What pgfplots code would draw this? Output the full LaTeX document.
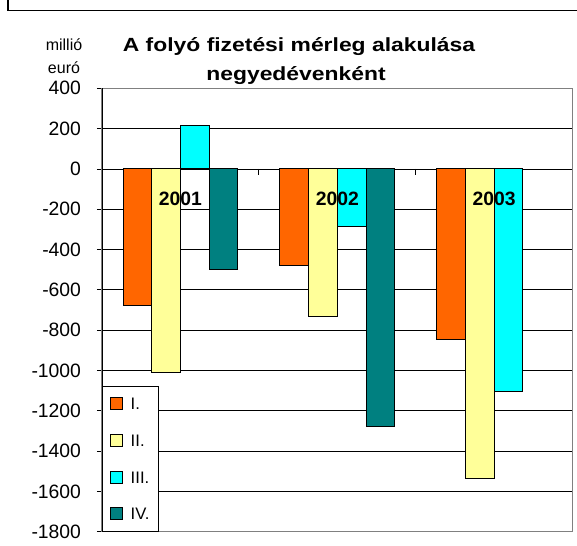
\documentclass[border=0pt]{standalone}
\usepackage{pgfplots}
\pgfplotsset{compat=1.18}
\usepackage{fontspec}
\setmainfont{Liberation Sans}
\newfontfamily\titlefont[FakeStretch=1.2]{Liberation Sans}
\definecolor{cI}{HTML}{FF6600}
\definecolor{cII}{HTML}{FFFF99}
\definecolor{cIII}{HTML}{00FFFF}
\definecolor{cIV}{HTML}{008080}
\begin{document}
\begin{tikzpicture}[x=0.75pt,y=0.75pt]
\path[use as bounding box] (0,0) rectangle (577,545);
\draw[line width=1pt] (8,546) -- (8,534.3) -- (578,534.3);
\node[anchor=base, font=\titlefont\bfseries\fontsize{14.3}{17}\selectfont] at (299,493) {A folyó fizetési mérleg alakulása};
\node[anchor=base, font=\titlefont\bfseries\fontsize{14.3}{17}\selectfont] at (296,464) {negyedévenként};
\node[anchor=base, font=\fontsize{12}{14}\selectfont] at (64,494) {millió};
\node[anchor=base, font=\fontsize{12}{14}\selectfont] at (64,471) {euró};
\begin{axis}[
 at={(76.5pt,9.975pt)}, anchor=south west,
 scale only axis, width=353pt, height=332.55pt,
 xmin=0.5, xmax=3.5, ymin=-1800, ymax=400,
 ytick distance=200, xtick=\empty, ytick pos=left,
 ymajorgrids, grid style={black, line width=0.6pt},
 axis line style={draw=gray, line width=1.1pt},
 ytick style={black, line width=0.6pt}, tick align=outside, major tick length=3.75pt,
 /pgf/number format/assume math mode=true,
 /pgf/number format/1000 sep={},
 yticklabel style={font=\fontsize{14.5}{17}\selectfont, xshift=-8.5pt},
 ybar=0pt, bar width=0.183,
 every axis plot/.append style={draw=black, line width=0.75pt},
 legend image code/.code={\draw[#1] (0pt,-4.5pt) rectangle (9pt,4.5pt);},
 legend cell align=left,
 legend style={at={(rel axis cs:0,0)}, anchor=south west, draw=black, line width=0.6pt, fill=white,
   font=\fontsize{12.5}{14}\selectfont, row sep=16.5pt, inner xsep=5.5pt, inner ysep=7.5pt,
   nodes={inner sep=1pt, text height=9pt, text depth=0pt},
   /tikz/every odd column/.append style={column sep=5pt}},
]
\addplot[fill=cI] coordinates {(1,-680) (2,-480) (3,-845)};
\addplot[fill=cII] coordinates {(1,-1010) (2,-730) (3,-1535)};
\addplot[fill=cIII] coordinates {(1,215) (2,-285) (3,-1105)};
\addplot[fill=cIV] coordinates {(1,-500) (2,-1280)};
\legend{I.,II.,III.,IV.}
\draw[black, line width=0.6pt] (axis cs:1.5,0) -- (axis cs:1.5,-30);
\draw[black, line width=0.6pt] (axis cs:2.5,0) -- (axis cs:2.5,-30);
\draw[black, line width=0.8pt] (rel axis cs:0,0) -- (rel axis cs:0,1);
\node[font=\bfseries\fontsize{14.5}{17}\selectfont] at (axis cs:1,-150) {2001};
\node[font=\bfseries\fontsize{14.5}{17}\selectfont] at (axis cs:2,-150) {2002};
\node[font=\bfseries\fontsize{14.5}{17}\selectfont] at (axis cs:3,-150) {2003};
\end{axis}
\end{tikzpicture}
\end{document}
